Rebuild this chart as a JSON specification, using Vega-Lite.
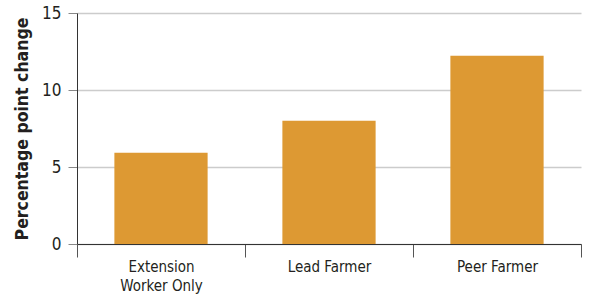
{
  "$schema": "https://vega.github.io/schema/vega-lite/v6.json",
  "width": 504,
  "height": 231,
  "autosize": "none",
  "padding": {"left": 77, "top": 13, "right": 18, "bottom": 53},
  "background": "white",
  "config": {
    "view": {"stroke": null},
    "font": "DejaVu Sans Condensed, Roboto, sans-serif"
  },
  "data": {
    "values": [
      {"group": "Extension Worker Only", "change": 5.93},
      {"group": "Lead Farmer", "change": 8.0},
      {"group": "Peer Farmer", "change": 12.23}
    ]
  },
  "mark": {"type": "bar", "color": "#DD9933", "width": {"band": 0.555}},
  "encoding": {
    "x": {
      "field": "group",
      "type": "nominal",
      "sort": null,
      "scale": {"paddingInner": 0, "paddingOuter": 0},
      "axis": {
        "title": null,
        "labelAngle": 0,
        "tickBand": "extent",
        "labelExpr": "datum.value == 'Extension Worker Only' ? ['Extension', 'Worker Only'] : datum.value",
        "labelFont": "DejaVu Sans Condensed, Roboto, sans-serif",
        "labelFontSize": 15,
        "labelColor": "#231F20",
        "labelLineHeight": 19,
        "labelPadding": 2,
        "labelBaseline": "top",
        "domainColor": "#333333",
        "domainWidth": 1,
        "tickColor": "#555555",
        "tickSize": 13,
        "tickWidth": 1
      }
    },
    "y": {
      "field": "change",
      "type": "quantitative",
      "scale": {"domain": [0, 15], "nice": false},
      "axis": {
        "title": "Percentage point change",
        "titleFont": "DejaVu Sans Condensed, Roboto, sans-serif",
        "titleFontSize": 17.5,
        "titleFontWeight": "bold",
        "titleColor": "#231F20",
        "titlePadding": 10,
        "values": [0, 5, 10, 15],
        "labelFont": "DejaVu Sans Condensed, Roboto, sans-serif",
        "labelFontSize": 17,
        "labelColor": "#231F20",
        "labelPadding": 7,
        "domainColor": "#333333",
        "domainWidth": 1,
        "tickColor": "#888888",
        "tickSize": 9,
        "tickWidth": 1,
        "gridColor": "#cccccc",
        "gridWidth": 1.5
      }
    }
  }
}
